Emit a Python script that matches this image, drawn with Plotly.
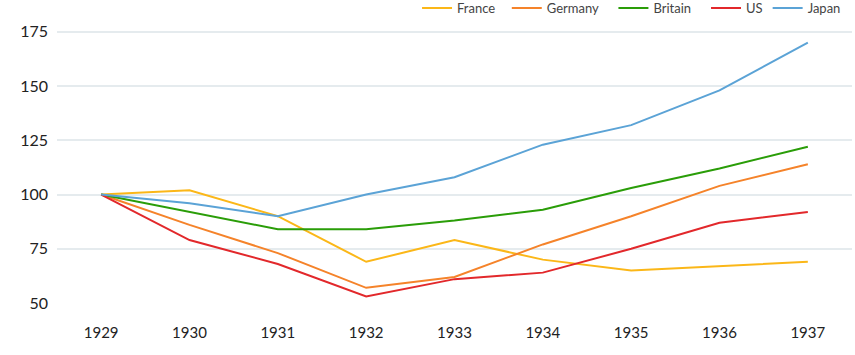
import plotly.graph_objects as go

years = [1929, 1930, 1931, 1932, 1933, 1934, 1935, 1936, 1937]
france = [100, 102, 90, 69, 79, 70, 65, 67, 69]
germany = [100, 86, 73, 57, 62, 77, 90, 104, 114]
britain = [100, 92, 84, 84, 88, 93, 103, 112, 122]
us = [100, 79, 68, 53, 61, 64, 75, 87, 92]
japan = [100, 96, 90, 100, 108, 123, 132, 148, 170]

series = [
    ("France", france, "#fbb718"),
    ("Germany", germany, "#f5832a"),
    ("Britain", britain, "#2a9d08"),
    ("US", us, "#e2282b"),
    ("Japan", japan, "#5ba3d6"),
]
legend_pad = [2, 3, 3, 0, 0]

fig = go.Figure()
for (name, vals, col), p in zip(series, legend_pad):
    fig.add_trace(go.Scatter(x=years, y=vals, name=name + "\u00a0" * p, mode="lines",
                             line=dict(color=col, width=2)))

fig.update_layout(
    width=855, height=355,
    margin=dict(l=57, r=3, t=21, b=52, autoexpand=False),
    paper_bgcolor="white", plot_bgcolor="white",
    font=dict(family="Lato", color="#333333"),
    legend=dict(orientation="h", x=0.9925, xanchor="right", y=1.046, yanchor="middle",
                font=dict(size=13, color="#444444"), bgcolor="rgba(0,0,0,0)",
                itemwidth=30, tracegroupgap=0),
    showlegend=True,
)
fig.update_xaxes(range=[1928.5, 1937.5], tickvals=years, ticktext=[str(y) for y in years],
                 showgrid=False, zeroline=False, showline=False,
                 tickfont=dict(size=15, color="#222222"), ticks="", ticklabelstandoff=19)
fig.update_yaxes(range=[50, 180], tickvals=[50, 75, 100, 125, 150, 175],
                 showgrid=True, gridcolor="#e5ebee", gridwidth=2, zeroline=False,
                 showline=False, tickfont=dict(size=16, color="#222222"), ticks="",
                 ticklabelstandoff=8)

fig.write_html("out.html", config={"displayModeBar": False},
               post_script="document.body.style.margin='0';")
